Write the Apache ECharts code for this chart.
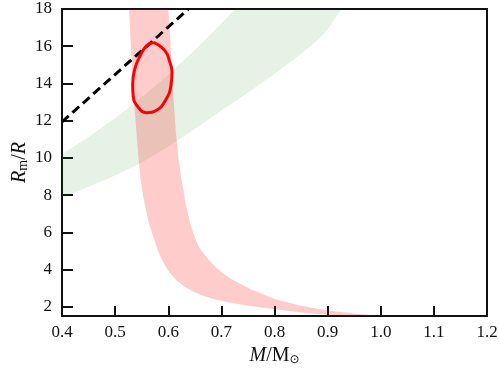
<!DOCTYPE html>
<html>
<head>
<meta charset="utf-8">
<script src="https://cdn.jsdelivr.net/npm/echarts@6/dist/echarts.min.js"></script>
<style>
  html, body { margin: 0; padding: 0; background: #fff; }
  #chart { width: 499px; height: 378px; }
</style>
</head>
<body>
<div id="chart"></div>
<script>
// green band (lower and upper edges)
var greenLowerM = [0.4, 0.45, 0.5, 0.55, 0.6, 0.65, 0.7, 0.75, 0.8, 0.85, 0.88, 0.9, 0.926];
var greenLowerR = [7.85, 8.45, 9.05, 9.75, 10.6, 11.55, 12.55, 13.5, 14.5, 15.6, 16.3, 16.9, 18];
var greenUpperM = [0.4, 0.45, 0.5, 0.55, 0.6, 0.65, 0.7, 0.726];
var greenUpperR = [10.2, 11.12, 12.13, 13.25, 14.47, 15.8, 17.22, 18];

// pink band: left/lower edge (top -> bottom right), right/upper edge (bottom -> top)
var pinkLowerM = [0.526, 0.528, 0.533, 0.540, 0.544, 0.548, 0.553, 0.559, 0.565, 0.572, 0.580, 0.590, 0.602, 0.615, 0.630, 0.648, 0.668, 0.690, 0.715, 0.745, 0.775, 0.82, 0.87, 0.935];
var pinkLowerR = [18, 16.9, 14.0, 11.4, 10.0, 8.84, 7.9, 7.05, 6.35, 5.75, 5.05, 4.4, 3.85, 3.42, 3.08, 2.8, 2.56, 2.38, 2.22, 2.08, 1.96, 1.79, 1.64, 1.5];
var pinkUpperM = [1.0, 0.95, 0.9, 0.85, 0.8, 0.78, 0.758, 0.737, 0.718, 0.703, 0.69, 0.677, 0.668, 0.658, 0.649, 0.641, 0.633, 0.625, 0.619, 0.614, 0.607, 0.603, 0.600];
var pinkUpperR = [1.5, 1.63, 1.8, 2.05, 2.42, 2.65, 2.9, 3.2, 3.5, 3.8, 4.1, 4.5, 4.8, 5.2, 5.8, 6.5, 7.5, 8.84, 10.0, 11.5, 14.5, 16.9, 18];

// red contour
var contourM = [0.572, 0.594, 0.603, 0.607, 0.605, 0.594, 0.578, 0.559, 0.544, 0.534, 0.533, 0.537, 0.547, 0.559, 0.572];
var contourR = [16.2, 15.75, 15.13, 14.6, 13.87, 13.06, 12.56, 12.43, 12.70, 13.33, 13.96, 14.77, 15.48, 16.02, 16.2];

// dashed line
var dashM = [0.4, 0.638];
var dashR = [11.93, 18];

var yTicks = [2, 4, 6, 8, 10, 12, 14, 16, 18];

function zip(a, b) {
    return a.map(function (v, i) { return [v, b[i]]; });
}

function polygonSeries(pts, color) {
    return {
        type: "custom",
        silent: true,
        data: [pts[0]],
        renderItem: function (params, api) {
            return {
                type: "polygon",
                shape: { points: pts.map(function (p) { return api.coord(p); }) },
                style: { fill: color }
            };
        }
    };
}

var greenPts = zip(greenLowerM, greenLowerR).concat(zip(greenUpperM, greenUpperR).reverse());
var pinkPts = zip(pinkLowerM, pinkLowerR).concat(zip(pinkUpperM, pinkUpperR));

var font = "Liberation Serif";
var dom = document.getElementById("chart");
var myChart = echarts.init(dom);

var option = {
    animation: false,
    grid: { left: 62, right: 12, top: 9, bottom: 62, containLabel: false, outerBoundsMode: "none" },
    xAxis: [{
        type: "value",
        min: 0.4,
        max: 1.2,
        interval: 0.1,
        axisLine: { lineStyle: { color: "#111", width: 2 } },
        axisTick: { inside: true, length: 10, lineStyle: { color: "#111", width: 2 } },
        axisLabel: {
            color: "#111", fontFamily: font, fontSize: 17, margin: 8,
            formatter: function (v) { return v.toFixed(1); }
        },
        splitLine: { show: false },
        name: "{i|M}{n|/M}{s|\u2299}",
        nameLocation: "middle",
        nameGap: 30,
        nameMoveOverlap: false,
        nameTextStyle: {
            rich: {
                i: { fontFamily: font, fontStyle: "italic", fontSize: 20, color: "#111" },
                n: { fontFamily: font, fontSize: 20, color: "#111" },
                s: { fontFamily: "DejaVu Sans", fontSize: 12, color: "#111", padding: [8, 0, 0, 0] }
            }
        }
    }, {
        type: "value",
        position: "top",
        min: 0.4,
        max: 1.2,
        axisLine: { show: true, onZero: false, lineStyle: { color: "#111", width: 2 } },
        axisTick: { show: false },
        axisLabel: { show: false },
        splitLine: { show: false }
    }],
    yAxis: [{
        type: "value",
        min: 1.5,
        max: 18,
        axisLine: { show: true, lineStyle: { color: "#111", width: 2 } },
        axisTick: { inside: true, length: 11, customValues: yTicks, lineStyle: { color: "#111", width: 2 } },
        axisLabel: { color: "#111", fontFamily: font, fontSize: 17, margin: 10, customValues: yTicks },
        splitLine: { show: false },
        name: "{i|R}{s|m}{n|/}{i|R}",
        nameLocation: "middle",
        nameRotate: 90,
        nameGap: 32,
        nameMoveOverlap: false,
        nameTextStyle: {
            rich: {
                i: { fontFamily: font, fontStyle: "italic", fontSize: 20, color: "#111" },
                n: { fontFamily: font, fontSize: 20, color: "#111" },
                s: { fontFamily: font, fontSize: 14, color: "#111", padding: [7, 0, 0, 0] }
            }
        }
    }, {
        type: "value",
        position: "right",
        min: 1.5,
        max: 18,
        axisLine: { show: true, onZero: false, lineStyle: { color: "#111", width: 2 } },
        axisTick: { show: false },
        axisLabel: { show: false },
        splitLine: { show: false }
    }],
    series: [
        polygonSeries(greenPts, "rgba(0,128,0,0.1)"),
        polygonSeries(pinkPts, "rgba(255,0,0,0.2)"),
        {
            type: "line",
            data: zip(dashM, dashR),
            symbol: "none",
            lineStyle: { color: "#000", width: 3, type: [9, 5] }
        },
        {
            type: "line",
            data: zip(contourM, contourR),
            symbol: "none",
            smooth: 0.5,
            lineStyle: { color: "#ff0000", width: 3 }
        }
    ]
};

option && "object" == typeof option && myChart.setOption(option, true);
</script>
</body>
</html>
